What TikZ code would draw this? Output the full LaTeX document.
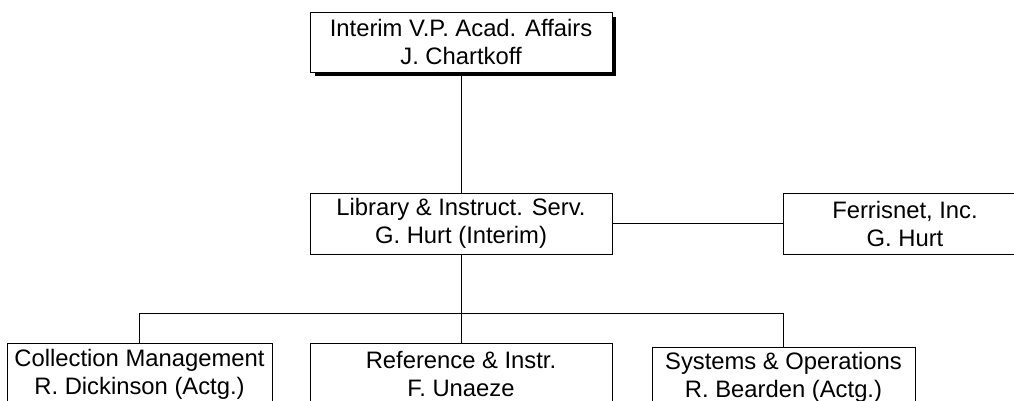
\documentclass[tikz,border=0pt]{standalone}
\usepackage{fontspec}
\setmainfont{Liberation Sans}
\begin{document}
\begin{tikzpicture}[x=1pt,y=-1pt,
  box/.style={draw, line width=0.8pt, fill=white, rectangle, inner sep=0pt,
    align=center, font=\fontsize{23.8}{28}\selectfont},
  link/.style={line width=0.8pt}]
\useasboundingbox (0,0) rectangle (1014,401);
\clip (0,0) rectangle (1014,401);
% shadow of top box
\fill[black] (315,17) rectangle (616,76);
\node[box, minimum width=302pt, minimum height=60pt] (top) at (461,42) {Interim V.P. Acad. Affairs\\J. Chartkoff};
\node[box, minimum width=302pt, minimum height=61pt] (mid) at (461,223.5) {Library \& Instruct. Serv.\\G. Hurt (Interim)};
\node[box, minimum width=244pt, minimum height=61pt] (fer) at (905,223.5) {Ferrisnet, Inc.\\G. Hurt};
\node[box, minimum width=265pt, minimum height=62pt] (b1) at (139.5,374) {Collection Management\\R. Dickinson (Actg.)};
\node[box, minimum width=302pt, minimum height=62pt] (b2) at (461,374) {Reference \& Instr.\\F. Unaeze};
\node[box, minimum width=263pt, minimum height=60pt] (b3) at (783.5,377) {Systems \& Operations\\R. Bearden (Actg.)};
\coordinate (bus) at (461,313);
\draw[link] (top.south) -- (mid.north);
\draw[link] (mid.east) -- (fer.west);
\draw[link] (mid.south) -- (b2.north);
\draw[link] (b1.north) -- (b1.north |- bus) -- (b3.north |- bus) -- (b3.north);
\end{tikzpicture}
\end{document}
